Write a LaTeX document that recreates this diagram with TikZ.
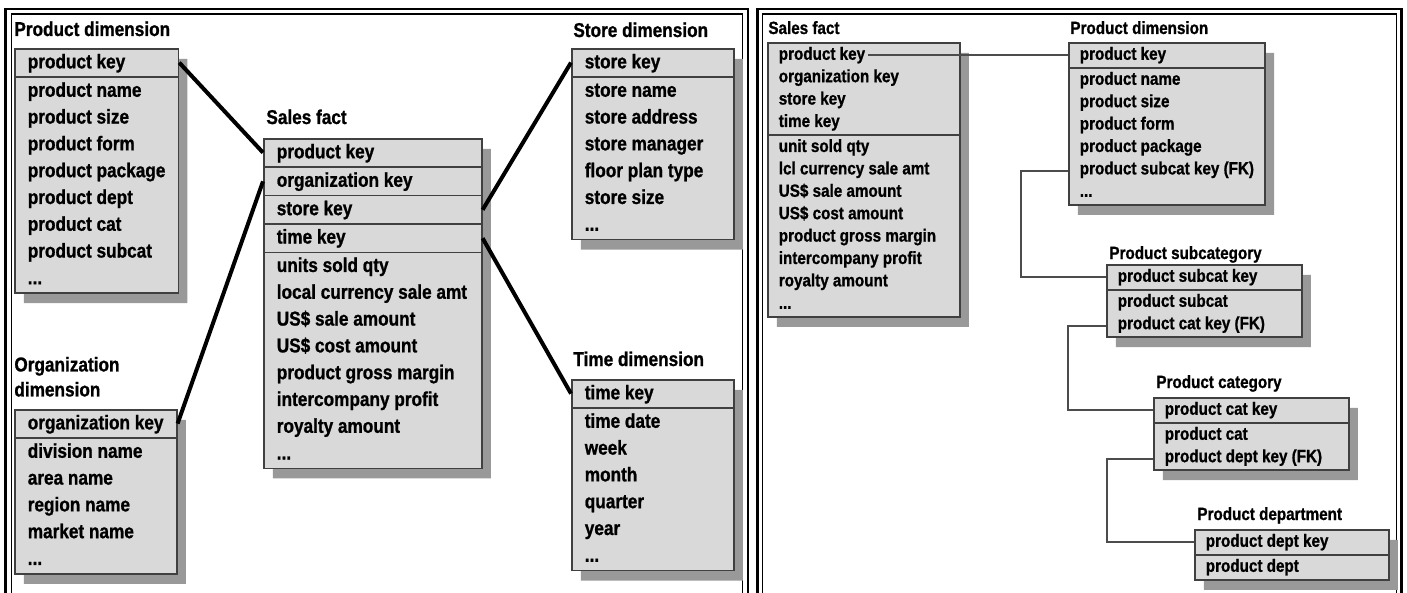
\documentclass[tikz,border=0pt]{standalone}
\usepackage{fontspec}
\usepackage{tikz}
\usetikzlibrary{calc,shapes.multipart}
\usetikzlibrary{shadows}
\newfontfamily\tblfont{Liberation Sans}[FakeStretch=0.86, FakeBold=1]
\tikzset{
    tbl/.style={
        rectangle split,
        rectangle split part align=left,
        align=left,
        anchor=north west,
        draw=black!75,
        line width=0.8pt,
        fill=gray!30,
        drop shadow={shadow xshift=4.5pt, shadow yshift=-5pt, fill=gray!80, opacity=1}
    },
    bigtbl/.style={
        tbl,
        font=\tblfont\bfseries\fontsize{10}{13.4}\selectfont,
        inner xsep=6.5pt,
        inner ysep=0pt,
        minimum width=81pt
    },
    smalltbl/.style={
        tbl,
        font=\tblfont\bfseries\fontsize{8.85}{11.2}\selectfont,
        inner xsep=5.5pt,
        inner ysep=0.25pt,
        minimum width=97.5pt
    },
    bigttl/.style={
        font=\tblfont\bfseries\fontsize{10}{12.5}\selectfont,
        inner sep=0pt,
        align=left,
        anchor=base west
    },
    smallttl/.style={
        font=\tblfont\bfseries\fontsize{8.85}{11}\selectfont,
        inner sep=0pt,
        anchor=base west
    },
    starlink/.style={line width=2pt, black},
    snowlink/.style={line width=0.8pt, black!70}
}

\begin{document}
\begin{tikzpicture}[x=0.5pt, y=-0.5pt]

\useasboundingbox (0,0) rectangle (1407,593);
\clip (0,0) rectangle (1407,593);

% Frames
\draw[line width=1.4pt] (5.5,9) rectangle (748,610);
\draw[line width=0.7pt] (11.5,14) rectangle (742.5,610);
\draw[line width=1.4pt] (757.5,9) rectangle (1401.5,610);
\draw[line width=0.7pt] (762.5,14) rectangle (1396.5,610);

% Star schema
\node[bigtbl, rectangle split parts=2] (pd) at (14,48)
{\strut product key
\nodepart{two}\strut product name\\product size\\product form\\product package\\
product dept\\product cat\\product subcat\\...\strut};
\node[bigttl] (pdttl) at (14,36) {Product dimension};

\node[bigtbl, rectangle split parts=2] (od) at (14,409)
{\strut organization key
\nodepart{two}\strut division name\\area name\\region name\\market name\\...\strut};
\node[bigttl, anchor=south west] (odttl) at (14,397) {Organization\\dimension};

\node[bigtbl, rectangle split parts=5, minimum width=109pt] (sf) at (263,138)
{\strut product key
\nodepart{two}\strut organization key
\nodepart{three}\strut store key
\nodepart{four}\strut time key
\nodepart{five}\strut units sold qty\\local currency sale amt\\US\$ sale amount\\
US\$ cost amount\\product gross margin\\intercompany profit\\royalty amount\\...\strut};
\node[bigttl] (sfttl) at (266,124) {Sales fact};

\node[bigtbl, rectangle split parts=2] (st) at (571,48)
{\strut store key
\nodepart{two}\strut store name\\store address\\store manager\\floor plan type\\
store size\\...\strut};
\node[bigttl] (stttl) at (573,37) {Store dimension};

\node[bigtbl, rectangle split parts=2] (tm) at (571,379)
{\strut time key
\nodepart{two}\strut time date\\week\\month\\quarter\\year\\...\strut};
\node[bigttl] (tmttl) at (573,366) {Time dimension};

\draw[starlink] ($(pd.north east)!0.5!(pd.text split east)$)
    -- ($(sf.north west)!0.5!(sf.text split west)$);
\draw[starlink] ($(od.north east)!0.5!(od.text split east)$)
    -- ($(sf.text split west)!0.5!(sf.two split west)$);
\draw[starlink] ($(sf.two split east)!0.5!(sf.three split east)$)
    -- ($(st.north west)!0.5!(st.text split west)$);
\draw[starlink] ($(sf.three split east)!0.5!(sf.four split east)$)
    -- ($(tm.north west)!0.5!(tm.text split west)$);

% Snowflake
\node[smalltbl, rectangle split parts=2, minimum width=96pt] (sfb) at (767,42)
{\strut product key\\organization key\\store key\\time key\strut
\nodepart{two}\strut unit sold qty\\lcl currency sale amt\\US\$ sale amount\\
US\$ cost amount\\product gross margin\\intercompany profit\\royalty amount\\...\strut};
\node[smallttl] (sfbttl) at (768,34) {Sales fact};

\node[smalltbl, rectangle split parts=2] (pdb) at (1068,42)
{\strut product key
\nodepart{two}\strut product name\\product size\\product form\\product package\\
product subcat key (FK)\\...\strut};
\node[smallttl] (pdbttl) at (1070,34) {Product dimension};

\node[smalltbl, rectangle split parts=2] (psc) at (1106,264)
{\strut product subcat key
\nodepart{two}\strut product subcat\\product cat key (FK)\strut};
\node[smallttl] (pscttl) at (1109,259) {Product subcategory};

\node[smalltbl, rectangle split parts=2] (pc) at (1153,397)
{\strut product cat key
\nodepart{two}\strut product cat\\product dept key (FK)\strut};
\node[smallttl] (pcttl) at (1156,388) {Product category};

\node[smalltbl, rectangle split parts=2, minimum width=97pt] (pdp) at (1194,529)
{\strut product dept key
\nodepart{two}\strut product dept\strut};
\node[smallttl] (pdpttl) at (1197,520) {Product department};

\coordinate (pkb) at ($(sfb.north west)+(101,12.8)$);
\coordinate (fk1) at ($(pdb.south west)+(0,-34.4)$);
\coordinate (fk2) at ($(psc.south west)+(0,-12)$);
\coordinate (fk3) at ($(pc.south west)+(0,-12)$);

\draw[snowlink] (pkb) -- (pkb -| pdb.west);
\draw[snowlink] (fk1) -- ++(-47,0)
    |- ($(psc.north west)!0.5!(psc.text split west)$);
\draw[snowlink] (fk2) -- ++(-38,0)
    |- ($(pc.north west)!0.5!(pc.text split west)$);
\draw[snowlink] (fk3) -- ++(-46,0)
    |- ($(pdp.north west)!0.5!(pdp.text split west)$);

\end{tikzpicture}
\end{document}
